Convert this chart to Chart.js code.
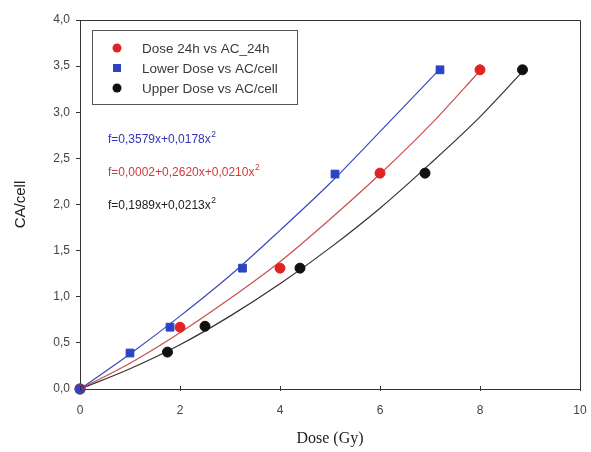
<!DOCTYPE html>
<html lang="en">
<head>
<meta charset="UTF-8">
<title>CA/cell vs Dose</title>
<style>
  html, body { margin: 0; padding: 0; background: #fff; }
  #wrap { width: 591px; height: 452px; }
</style>
</head>
<body>
<div id="wrap"><canvas id="chart" width="591" height="452"></canvas></div>
<script src="https://cdn.jsdelivr.net/npm/chart.js@4.4.1/dist/chart.umd.min.js"></script>
<script>
// measured points
const redX = [0, 2, 4, 6, 8];
const redY = [0, 0.67, 1.31, 2.34, 3.46];
const blueX = [0, 1.0, 1.8, 3.25, 5.1, 7.2];
const blueY = [0, 0.39, 0.67, 1.31, 2.33, 3.46];
const blackX = [0, 1.75, 2.5, 4.4, 6.9, 8.85];
const blackY = [0, 0.40, 0.68, 1.31, 2.34, 3.46];

// fitted curves
const blueFitX = [0, 1, 2, 3, 4, 5, 6, 7.2];
const blueFitY = [0, 0.38, 0.79, 1.23, 1.72, 2.23, 2.79, 3.47];
const redFitX = [0, 1, 2, 3, 4, 5, 6, 7, 8];
const redFitY = [0, 0.28, 0.61, 0.98, 1.38, 1.84, 2.33, 2.86, 3.45];
const blackFitX = [0, 1, 2, 3, 4, 5, 6, 7, 8, 8.85];
const blackFitY = [0, 0.22, 0.48, 0.79, 1.14, 1.53, 1.96, 2.44, 2.95, 3.44];

const legendLabels = ['Dose 24h vs AC_24h', 'Lower Dose vs AC/cell', 'Upper Dose vs AC/cell'];
const equations = [
  ['f=0,3579x+0,0178x', '#3236b4'],
  ['f=0,0002+0,2620x+0,0210x', '#d23a3a'],
  ['f=0,1989x+0,0213x', '#222222']
];

const RED = '#e02424', BLUE = '#2c44c4', BLACK = '#111111';
const SANS = '"Liberation Sans", Arial, sans-serif';

function pts(xs, ys) { return xs.map((x, i) => ({ x: x, y: ys[i] })); }

const decorations = {
  id: 'decorations',
  afterDraw(chart) {
    const ctx = chart.ctx;
    const a = chart.chartArea;
    const xs = chart.scales.x;
    ctx.save();
    // box frame: top and right edges
    ctx.strokeStyle = '#333';
    ctx.lineWidth = 1;
    ctx.beginPath();
    ctx.moveTo(a.left, a.top + 0.5);
    ctx.lineTo(a.right + 0.5, a.top + 0.5);
    ctx.lineTo(a.right + 0.5, a.bottom);
    ctx.stroke();
    // x ticks pointing inward
    [0, 2, 4, 6, 8, 10].forEach(v => {
      const px = Math.round(xs.getPixelForValue(v)) + 0.5;
      ctx.beginPath();
      ctx.moveTo(px, a.bottom + 2);
      ctx.lineTo(px, a.bottom - 3);
      ctx.stroke();
    });

    // legend box
    ctx.strokeStyle = '#555';
    ctx.strokeRect(92.5, 30.5, 205, 74);
    ctx.font = '13.5px ' + SANS;
    ctx.textBaseline = 'middle';
    const rowsY = [48, 68, 88];
    const cols = [RED, BLUE, BLACK];
    rowsY.forEach((y, i) => {
      ctx.fillStyle = cols[i];
      if (i === 1) {
        ctx.fillRect(113, y - 4, 8, 8);
      } else {
        ctx.beginPath();
        ctx.arc(117, y, 4.5, 0, Math.PI * 2);
        ctx.fill();
      }
      ctx.fillStyle = '#3a3a3a';
      ctx.fillText(legendLabels[i], 142, y + 1);
    });

    // equations
    const eqY = [140, 173, 206];
    equations.forEach((eq, i) => {
      ctx.fillStyle = eq[1];
      ctx.font = '12px ' + SANS;
      ctx.textBaseline = 'middle';
      ctx.fillText(eq[0], 108, eqY[i]);
      const w = ctx.measureText(eq[0]).width;
      ctx.font = '8.5px ' + SANS;
      ctx.fillText('2', 108 + w + 0.5, eqY[i] - 5);
    });
    ctx.restore();
  }
};

new Chart(document.getElementById('chart'), {
  type: 'scatter',
  data: {
    datasets: [
      // first dataset is painted on top
      { label: legendLabels[1], data: pts(blueX, blueY), backgroundColor: BLUE, borderColor: BLUE,
        pointRadius: 5.5, pointStyle: 'rect', clip: false },
      { label: legendLabels[0], data: pts(redX, redY), backgroundColor: RED, borderColor: RED,
        pointRadius: 5, pointStyle: 'circle', clip: false },
      { label: legendLabels[2], data: pts(blackX, blackY), backgroundColor: BLACK, borderColor: BLACK,
        pointRadius: 5, pointStyle: 'circle', clip: false },
      { type: 'line', data: pts(blueFitX, blueFitY), borderColor: '#3a4ab8', borderWidth: 1.2,
        pointRadius: 0, cubicInterpolationMode: 'monotone', fill: false },
      { type: 'line', data: pts(redFitX, redFitY), borderColor: '#c85050', borderWidth: 1.2,
        pointRadius: 0, cubicInterpolationMode: 'monotone', fill: false },
      { type: 'line', data: pts(blackFitX, blackFitY), borderColor: '#333', borderWidth: 1.2,
        pointRadius: 0, cubicInterpolationMode: 'monotone', fill: false }
    ]
  },
  options: {
    responsive: false,
    animation: false,
    layout: { padding: { top: 20, right: 11, left: 8, bottom: 0 } },
    plugins: { legend: { display: false }, tooltip: { enabled: false } },
    scales: {
      x: {
        type: 'linear', min: 0, max: 10,
        afterFit: s => { s.height = 63; s.paddingLeft = 0; s.paddingRight = 0; },
        ticks: { stepSize: 2, color: '#444', font: { size: 12, family: SANS }, padding: 14 },
        grid: { drawOnChartArea: false, drawTicks: false },
        border: { color: '#333', width: 1 },
        title: { display: true, text: 'Dose (Gy)', color: '#222',
          font: { size: 16, family: '"Liberation Serif", "Times New Roman", serif' } }
      },
      y: {
        type: 'linear', min: 0, max: 4,
        afterFit: s => { s.width = 72; s.paddingTop = 0; s.paddingBottom = 0; },
        ticks: { stepSize: 0.5, color: '#444', font: { size: 12, family: SANS },
          padding: 6, callback: v => v.toFixed(1).replace('.', ',') },
        grid: { drawOnChartArea: false, tickLength: 4, color: '#333' },
        border: { color: '#333', width: 1 },
        title: { display: true, text: 'CA/cell', color: '#222',
          font: { size: 15, family: SANS } }
      }
    }
  },
  plugins: [decorations]
});
</script>
</body>
</html>
